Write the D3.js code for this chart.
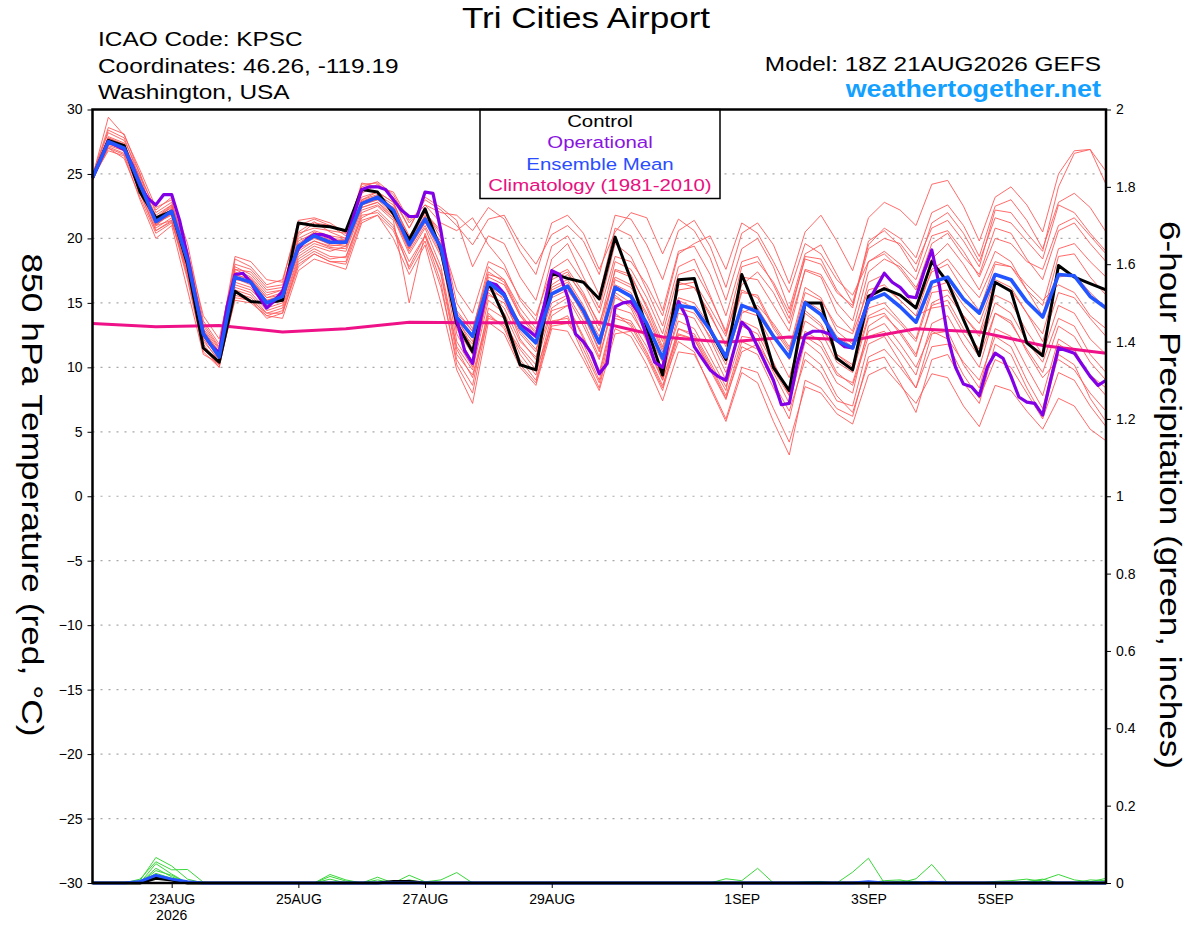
<!DOCTYPE html>
<html>
<head>
<meta charset="utf-8">
<script src="https://cdn.jsdelivr.net/npm/d3@7"></script>
<style>
  body { margin: 0; background: #fff; }
  svg { font-family: "Liberation Sans", Arial, Helvetica, sans-serif; }
</style>
</head>
<body>
<div id="meteograma"></div>
<script>
// ---- datos (18Z 21AUG2026 GEFS, KPSC) ----
// temperatura 850 hPa cada 6 h, 65 pasos (0..384 h)
const control = [24.7,27.6,27.2,23.6,21.6, 22.1,18.0,11.5,10.4, 15.9,15.1,15.0,15.2, 21.2,21.0,20.9,20.6,
  23.8,23.6,21.9,19.9, 22.3,19.1,13.4,11.2, 16.6,13.9,10.2,9.8, 17.3,16.9,16.6,15.3, 20.1,16.8,13.1,9.4,
  16.8,16.9,12.9,10.6, 17.2,14.2,10.0,8.2, 15.0,15.0,10.7,9.8, 15.5,16.1,15.6,14.6, 18.2,16.6,13.7,10.9,
  16.6,15.9,11.9,10.9, 17.9,17.0,16.5,16.0];

const ensembleMean = [24.7,27.5,27.0,24.2,21.3, 22.1,18.3,12.6,10.8, 17.0,16.6,15.0,15.5, 19.4,20.2,19.7,19.7,
  22.7,23.2,22.2,19.5, 21.5,19.3,13.9,12.4, 16.6,15.6,13.1,11.9, 15.7,16.3,14.4,11.9, 16.2,15.5,13.4,10.7,
  14.8,14.6,12.9,10.8, 14.8,14.3,12.4,10.8, 15.0,14.1,12.1,11.5, 15.2,15.7,14.7,13.5, 16.6,17.0,15.3,14.2,
  17.2,16.8,15.1,13.9, 17.2,17.1,15.5,14.6];

// operacional cada 3 h, 129 pasos
const operational = [24.7,26.1,27.5,27.2,26.9,25.7,24.1,23.1,22.6,23.4,23.4,21.4,18.6,15.5,12.6,11.7,11.1,
  14.7,17.2,17.3,16.6,15.5,14.6,15.2,15.9,17.8,19.2,19.9,20.3,20.3,20.1,19.7,19.7,21.8,23.8,24.0,24.0,
  23.8,23.0,22.2,21.7,21.7,23.6,23.5,20.6,17.0,13.7,11.3,10.3,13.7,16.6,16.4,15.7,14.2,13.3,12.9,12.4,
  14.7,17.5,17.2,15.5,12.6,12.0,11.1,9.5,10.3,14.7,15.0,15.1,14.2,12.4,10.4,10.0,12.6,15.1,13.9,11.6,
  10.7,9.8,9.3,9.0,11.3,13.5,12.9,11.6,10.3,9.0,7.1,7.2,10.3,12.5,12.8,12.8,12.6,12.1,11.6,11.5,13.4,
  15.1,16.2,17.3,16.6,16.2,15.5,15.4,17.4,19.1,16.2,12.4,10.0,8.7,8.5,7.8,10.0,11.1,10.7,9.3,7.7,7.3,
  7.2,6.3,9.0,11.5,11.3,11.1,10.2,9.3,8.6,9.0];

// climatologia 1981-2010, un valor diario (cada 4 pasos)
const climatology = [13.4,13.15,13.25,12.75,13.0,13.5,13.45,13.45,13.5,12.35,11.95,12.35,12.1,13.0,12.75,11.7,11.1];

// miembros del ensemble (rojo)
const members = [
  [25.0,28.2,27.6,25.0,22.0,22.8,19.0,13.2,11.5,17.6,17.4,16.0,16.2,20.5,21.3,20.5,20.0,23.5,24.2,23.2,20.8,23.0,22.2,21.0,19.5,21.5,21.8,19.6,18.0,20.3,21.0,19.8,17.2,21.8,21.5,19.5,16.8,20.6,21.4,19.4,16.2,20.4,21.2,19.5,16.5,20.5,21.8,19.8,17.5,21.6,22.8,22.2,21.0,24.2,24.5,22.5,19.8,23.2,24.0,22.6,20.5,25.0,26.8,26.9,25.2],
  [24.8,29.4,28.0,25.3,22.4,23.0,17.5,12.2,11.0,18.4,17.8,16.4,16.8,21.0,21.5,21.0,20.2,24.3,24.0,23.6,21.4,22.6,22.0,21.8,20.6,22.4,21.5,19.0,17.2,21.2,21.8,20.4,17.6,20.5,22.0,21.6,18.8,21.5,20.6,18.5,15.2,19.2,20.0,17.8,14.5,18.8,19.5,17.2,15.0,19.5,20.8,20.0,18.5,22.0,22.6,21.0,18.6,22.5,23.0,21.4,19.2,22.8,23.5,22.4,20.5],
  [24.6,27.8,27.3,24.6,21.6,22.4,18.6,12.8,11.2,17.4,16.9,15.4,15.6,19.6,20.5,20.0,19.9,23.0,23.6,22.8,20.0,22.0,20.6,15.0,13.0,17.2,16.8,14.2,12.6,16.8,17.4,15.4,12.8,17.5,17.0,14.8,12.0,16.4,16.6,14.6,12.4,17.0,16.8,14.8,12.8,17.6,17.2,15.0,13.6,18.2,18.8,17.6,16.0,19.6,20.4,18.6,17.2,20.8,20.4,18.4,16.8,20.6,21.2,19.6,18.2],
  [24.5,27.0,26.5,23.5,20.6,21.3,17.6,11.8,10.2,16.0,15.6,14.2,14.6,18.4,19.2,18.6,18.5,22.0,22.5,21.4,15.0,20.4,17.2,11.0,9.4,14.2,13.0,10.2,8.8,13.4,14.0,11.4,8.8,13.0,12.4,10.2,7.4,11.2,11.0,8.6,6.0,10.0,9.6,6.8,4.2,8.5,8.0,6.4,5.6,9.4,10.0,8.6,7.2,9.5,9.2,7.0,5.4,8.6,8.2,6.6,5.2,7.6,7.0,5.2,4.3],
  [24.7,26.8,26.4,23.0,20.0,21.0,16.0,11.0,10.3,15.2,15.0,14.0,13.8,17.5,18.4,18.0,17.6,21.2,21.8,20.0,17.2,19.5,15.0,9.8,7.2,13.5,12.6,10.0,8.6,13.0,12.8,10.6,8.2,12.6,12.8,10.8,8.2,12.5,12.2,9.8,7.5,11.6,11.0,8.4,6.0,11.2,10.2,7.8,6.5,10.4,10.8,8.8,6.5,10.6,11.0,8.8,7.2,11.8,11.0,8.4,6.2,11.0,10.2,7.6,5.8],
  [24.9,27.6,27.0,24.0,21.0,22.0,18.8,13.4,11.6,16.6,16.2,14.6,15.0,19.0,19.8,19.3,19.2,22.4,22.8,21.8,19.0,21.0,18.6,13.2,11.8,15.8,14.6,12.0,10.8,14.6,15.4,13.2,10.6,15.4,14.8,12.6,9.8,13.6,13.0,10.8,8.5,12.4,12.2,9.6,7.2,12.0,11.0,8.8,8.0,13.2,14.0,12.8,11.0,14.8,15.2,13.0,11.4,15.0,14.2,12.0,10.4,13.8,13.2,11.0,9.6],
  [24.6,27.2,26.8,24.4,21.8,22.6,19.0,14.0,12.2,18.0,17.6,16.2,16.4,20.2,21.2,21.0,20.6,24.0,24.4,23.4,21.2,22.6,21.2,20.6,21.6,19.5,18.0,15.2,13.6,18.4,19.6,17.0,14.6,19.6,18.6,16.0,13.2,17.8,18.4,15.6,12.6,16.4,17.4,15.8,13.4,17.5,17.0,14.2,12.8,17.4,18.4,17.8,16.2,18.4,19.6,18.0,16.0,19.0,18.2,16.0,14.0,18.6,18.8,17.0,15.6],
  [24.5,27.4,26.8,24.2,21.2,21.8,17.2,12.0,10.6,16.8,16.6,15.2,15.6,19.2,19.8,19.4,19.6,22.8,23.2,22.0,19.2,21.2,19.8,12.6,10.4,15.6,15.0,12.6,11.2,15.4,16.0,14.2,11.2,16.8,16.2,14.0,11.2,15.4,15.0,13.2,10.6,14.4,14.0,11.6,9.2,13.6,12.8,10.4,9.6,13.8,14.2,12.6,10.8,15.0,15.6,14.0,12.6,16.6,16.0,14.2,12.0,15.8,15.4,13.8,12.4],
  [24.8,27.9,27.4,24.4,21.4,22.3,18.0,12.4,10.8,17.2,16.8,15.2,15.4,19.4,20.0,19.6,19.8,22.6,23.0,22.4,19.8,21.8,19.0,12.0,10.0,16.0,15.4,12.2,10.6,16.2,16.8,14.8,12.0,17.6,17.2,14.6,11.6,16.0,16.2,14.2,11.6,15.8,15.6,13.2,11.4,16.2,15.4,12.8,11.8,16.6,17.2,16.2,14.6,17.4,18.0,16.0,14.4,18.0,17.8,16.0,14.8,19.2,19.6,18.2,17.0],
  [24.7,27.1,26.6,23.8,20.8,21.6,17.0,11.4,10.2,15.6,15.2,13.8,14.2,18.2,19.0,18.4,18.6,21.6,22.2,21.0,17.6,19.8,16.2,10.6,8.6,14.6,13.8,11.0,9.4,14.0,14.8,12.2,9.4,14.2,13.2,11.0,8.4,13.0,12.4,10.2,7.8,12.0,11.4,8.8,6.6,10.6,9.6,7.4,7.0,11.8,12.4,10.4,8.4,12.6,12.8,10.2,8.4,13.0,12.4,10.0,7.8,12.2,11.4,9.2,7.8],
  [24.9,27.7,27.2,24.8,22.2,23.2,19.6,13.6,11.8,18.6,18.2,16.8,16.6,21.4,21.6,21.2,20.4,24.2,24.3,23.0,20.8,23.2,22.4,21.4,17.8,20.2,19.6,17.0,15.2,19.4,20.2,18.2,15.6,20.8,20.2,17.6,14.4,19.0,19.4,17.2,14.0,18.2,18.6,16.4,13.8,18.6,18.4,16.0,14.6,19.8,20.6,19.4,17.4,21.2,22.0,20.4,18.2,21.6,21.2,19.8,18.4,22.6,22.0,20.4,19.0],
  [24.6,27.3,26.9,23.6,20.6,21.4,18.0,12.6,11.0,16.4,16.0,14.8,15.2,18.8,19.6,19.2,19.0,22.2,22.6,21.6,18.8,20.8,17.8,11.6,9.8,15.2,14.2,11.6,10.2,14.4,14.8,12.4,9.6,14.6,14.2,12.2,9.2,14.2,13.8,11.6,9.0,13.6,13.0,10.4,7.8,12.8,12.0,9.6,8.6,12.4,12.8,11.2,9.4,13.4,14.0,11.8,10.0,14.2,13.6,11.2,9.2,10.6,9.8,8.0,6.6],
  [24.8,28.4,27.8,24.6,21.0,22.2,18.4,12.2,10.4,16.2,15.8,14.4,14.8,18.6,19.4,19.0,19.4,22.4,22.8,21.6,19.2,21.4,19.6,14.4,12.8,17.8,16.8,14.6,13.0,16.4,17.2,15.6,13.4,17.0,16.4,14.2,11.4,15.2,14.6,12.2,9.6,13.2,12.6,10.2,8.0,14.2,13.2,11.0,10.2,14.6,15.0,13.6,12.2,16.2,16.6,14.8,13.4,16.8,16.2,14.2,12.6,17.0,17.2,15.8,14.6],
  [24.6,27.0,26.2,23.2,20.4,21.2,17.4,11.6,10.0,15.8,15.4,14.0,14.4,18.0,18.8,18.2,18.0,21.4,21.8,20.6,17.8,20.2,16.6,10.2,8.0,14.0,13.2,10.6,9.0,13.6,13.8,11.0,8.4,13.8,13.4,11.2,8.6,12.0,11.2,8.4,5.8,9.6,8.8,5.8,3.2,9.0,8.4,6.8,6.2,10.8,11.4,10.0,8.4,11.6,11.8,9.4,7.6,10.6,10.0,8.0,6.0,9.6,9.0,7.0,5.4],
  [24.7,27.6,27.1,24.1,21.5,22.5,18.2,12.8,11.0,17.6,17.0,15.6,16.0,20.0,20.6,20.2,20.0,23.0,23.4,22.6,20.2,22.0,20.4,14.0,11.4,17.0,16.4,14.0,12.4,16.0,16.6,14.6,12.4,15.8,15.0,12.8,10.4,14.6,14.2,12.4,10.2,14.8,14.6,12.6,10.6,15.2,14.4,12.4,11.6,15.6,16.2,15.2,14.0,17.6,18.4,16.8,15.4,18.2,17.8,16.4,15.2,16.4,15.8,14.0,13.0],
  [24.5,27.8,27.2,24.3,21.6,22.6,18.6,13.0,11.4,17.8,17.2,15.8,16.0,20.4,20.8,20.6,20.4,23.2,23.6,22.8,19.8,22.2,20.0,16.0,14.2,18.2,17.6,15.4,14.0,17.6,18.4,16.6,14.2,18.6,18.2,16.4,14.0,18.8,19.6,20.2,17.6,21.2,20.4,18.2,15.8,19.6,18.8,16.8,15.6,18.2,19.0,18.0,16.8,20.2,20.6,19.0,17.0,20.0,19.6,18.2,17.6,21.0,21.6,20.2,18.8],
  [24.8,27.5,26.9,23.9,21.1,21.9,17.8,12.4,10.8,16.9,16.4,15.0,15.3,19.3,20.1,19.5,19.4,22.6,23.0,21.9,19.3,21.3,18.8,13.6,12.0,16.4,15.2,12.8,11.4,15.0,15.6,13.6,10.8,15.6,14.6,12.0,9.0,13.0,12.6,10.4,8.2,14.2,14.8,13.4,11.6,14.4,13.4,11.0,10.0,14.0,14.6,13.4,12.0,15.8,16.0,14.0,12.4,15.6,15.0,12.8,11.0,14.8,14.2,12.2,11.0],
  [24.6,27.6,27.0,24.0,21.2,22.0,18.2,12.7,10.9,16.9,16.6,15.1,15.5,19.5,20.3,19.8,19.8,22.8,23.3,22.3,19.6,21.6,19.2,13.0,11.0,16.2,15.8,13.4,12.0,15.6,16.2,14.0,11.4,16.4,15.8,13.4,10.6,16.6,16.2,14.0,11.8,16.0,15.4,13.0,11.2,15.8,15.2,13.2,12.6,16.0,16.4,15.2,14.0,14.6,14.8,12.6,10.8,14.2,13.4,11.4,9.6,13.2,12.4,10.4,9.0],
  [24.7,27.4,27.0,24.3,21.4,22.2,18.4,12.9,11.2,17.2,16.8,15.4,15.8,19.8,20.4,19.9,19.8,22.9,23.3,22.4,19.7,21.7,19.4,14.2,12.8,17.4,16.6,14.0,12.8,17.0,17.6,15.8,13.2,18.2,17.6,15.4,12.6,17.2,17.6,15.4,12.8,17.8,18.2,16.6,14.2,18.4,18.0,15.8,14.8,19.2,20.0,19.6,18.0,20.8,21.4,19.8,17.8,22.2,22.0,20.4,19.0,24.0,26.6,26.9,24.2],
  [24.9,28.6,28.1,25.0,21.0,21.4,16.8,11.2,10.0,15.4,15.2,14.2,14.2,17.8,18.8,18.2,18.2,21.8,22.0,20.8,18.2,20.2,17.4,11.4,9.2,13.8,13.4,11.4,9.8,13.2,13.4,11.8,9.0,14.0,13.6,11.6,9.0,12.6,12.2,10.0,7.6,11.2,11.8,9.8,7.8,12.4,11.6,9.4,8.8,12.8,13.4,11.8,10.0,12.8,12.2,10.4,9.0,12.4,11.6,9.0,6.8,11.8,11.0,9.4,8.4]
];

// precipitacion 6 h (pulgadas): paso -> valor, el resto es 0
const precipMembers = [
  {3:0.006, 4:0.066, 5:0.044, 6:0.01},
  {3:0.01, 4:0.055, 5:0.034, 6:0.035, 7:0.002},
  {4:0.05, 5:0.023, 15:0.022, 16:0.008, 18:0.015, 20:0.02, 21:0.003, 22:0.008, 23:0.027},
  {4:0.038, 5:0.016, 15:0.017, 16:0.005, 20:0.008, 40:0.011, 41:0.006, 42:0.038, 60:0.008, 61:0.022, 62:0.008, 63:0.003, 64:0.012},
  {4:0.032, 5:0.02, 48:0.028, 49:0.064, 52:0.011, 53:0.048},
  {4:0.025, 5:0.012, 45:0.003, 46:0.004, 51:0.005, 52:0.004, 59:0.004, 60:0.01},
  {3:0.004, 4:0.018, 5:0.01, 18:0.008, 57:0.004, 58:0.006, 59:0.01, 60:0.004, 63:0.008, 64:0.006},
  {4:0.012, 5:0.006, 15:0.01, 50:0.006, 51:0.008}
];
const precipControl = {4:0.012, 5:0.008, 19:0.004, 20:0.004};
const precipMean = {3:0.004, 4:0.02, 5:0.01, 6:0.003, 49:0.003, 53:0.002};

// ejes
const tickDays = ["2026-08-23","2026-08-25","2026-08-27","2026-08-29","2026-09-01","2026-09-03","2026-09-05"];
const tickLabels = ["23AUG","25AUG","27AUG","29AUG","1SEP","3SEP","5SEP"];
const tempTicks = [-30,-25,-20,-15,-10,-5,0,5,10,15,20,25,30];
const precipTicks = [0,0.2,0.4,0.6,0.8,1,1.2,1.4,1.6,1.8,2];

// Texto ensanchado horizontalmente (la fuente del original es mas ancha)
function wideText(parent, x, y, sx, anchor, size, txt, rotate) {
  return parent.append("text")
    .attr("transform", "translate(" + x + "," + y + ")" + (rotate ? " rotate(90)" : "") + " scale(" + sx + ",1)")
    .attr("text-anchor", anchor)
    .style("font-size", size + "px")
    .text(txt);
}

function Meteograma() {
  const width = 1200, height = 927;
  const plot = { left: 92.5, right: 1106, top: 109.5, bottom: 883 };
  const start = Date.UTC(2026, 7, 21, 18);
  // tiempo de cada paso (horas por paso)
  const stepTime = (i, hours) => new Date(start + i * hours * 3600e3);

  const svg = d3.select("#meteograma").append("svg")
    .attr("width", width).attr("height", height);

  const x = d3.scaleUtc().domain([stepTime(0, 6), stepTime(64, 6)]).range([plot.left, plot.right]);
  const yTemp = d3.scaleLinear().domain([-30, 30]).range([plot.bottom, plot.top]);
  const yPrecip = d3.scaleLinear().domain([0, 2]).range([plot.bottom, plot.top]);

  // lineas de rejilla punteadas
  svg.append("g").selectAll("line")
    .data(tempTicks.filter(d => d > -30 && d < 30))
    .enter().append("line")
    .attr("x1", plot.left).attr("x2", plot.right)
    .attr("y1", d => yTemp(d)).attr("y2", d => yTemp(d))
    .style("stroke", "#a8a8a8").style("stroke-width", 1.2)
    .style("stroke-dasharray", "2,6");

  const tempLine = hours => d3.line().x((d, i) => x(stepTime(i, hours))).y(d => yTemp(d));
  const precipLine = d3.line().x((d, i) => x(stepTime(i, 6))).y(d => yPrecip(d));
  const fullSeries = m => d3.range(65).map(i => m[i] || 0);

  const data = svg.append("g");

  // miembros del ensemble
  data.selectAll(".member").data(members).enter().append("path")
    .attr("class", "member").attr("d", tempLine(6))
    .style("fill", "none").style("stroke", "#ff5a5a").style("stroke-width", 0.9);

  // precipitacion de los miembros
  data.selectAll(".pmember").data(precipMembers.map(fullSeries)).enter().append("path")
    .attr("class", "pmember").attr("d", precipLine)
    .style("fill", "none").style("stroke", "#3ad83a").style("stroke-width", 1);
  data.append("path").datum(fullSeries(precipControl)).attr("d", precipLine)
    .style("fill", "none").style("stroke", "#000").style("stroke-width", 3);
  data.append("path").datum(fullSeries(precipMean)).attr("d", precipLine)
    .style("fill", "none").style("stroke", "#2255ff").style("stroke-width", 3);

  // climatologia (un punto por dia)
  data.append("path").datum(climatology)
    .attr("d", tempLine(24))
    .style("fill", "none").style("stroke", "#ee1188").style("stroke-width", 3);

  data.append("path").datum(control).attr("d", tempLine(6))
    .style("fill", "none").style("stroke", "#000").style("stroke-width", 3)
    .style("stroke-linejoin", "round");
  data.append("path").datum(operational).attr("d", tempLine(3))
    .style("fill", "none").style("stroke", "#8200e6").style("stroke-width", 3.2)
    .style("stroke-linejoin", "round");
  data.append("path").datum(ensembleMean).attr("d", tempLine(6))
    .style("fill", "none").style("stroke", "#2255ff").style("stroke-width", 3.6)
    .style("stroke-linejoin", "round");

  // leyenda
  const legend = svg.append("g");
  legend.append("rect")
    .attr("x", 480).attr("y", plot.top).attr("width", 240).attr("height", 89)
    .style("fill", "#fff").style("stroke", "#000").style("stroke-width", 1.5);
  const legendItems = [
    ["Control", "#000"], ["Operational", "#8a14e0"],
    ["Ensemble Mean", "#2a4dff"], ["Climatology (1981-2010)", "#e8107f"]
  ];
  legendItems.forEach((d, i) => {
    wideText(legend, 600, 127 + i * 21.4, 1.2, "middle", 17, d[0]).style("fill", d[1]);
  });

  // ejes
  const axisStyle = g => {
    g.select(".domain").remove();
    g.selectAll(".tick line").style("stroke", "#000").style("stroke-width", 1);
    g.selectAll(".tick text").style("font-size", "14px").style("fill", "#000")
      .style("font-family", "'Liberation Sans', Arial, sans-serif");
  };
  svg.append("g").attr("transform", "translate(" + plot.left + ",0)")
    .call(d3.axisLeft(yTemp).tickValues(tempTicks).tickSize(5).tickPadding(5).tickFormat(d3.format("d")))
    .call(axisStyle);
  svg.append("g").attr("transform", "translate(" + plot.right + ",0)")
    .call(d3.axisRight(yPrecip).tickValues(precipTicks).tickSize(5).tickPadding(5).tickFormat(d => +d.toFixed(1)))
    .call(axisStyle);
  const xAxis = svg.append("g").attr("transform", "translate(0," + plot.bottom + ")")
    .call(d3.axisBottom(x).tickValues(tickDays.map(d => new Date(d + "T00:00:00Z")))
      .tickSize(5).tickPadding(6).tickFormat((d, i) => tickLabels[i]))
    .call(axisStyle);
  // año bajo la primera etiqueta
  xAxis.append("text").attr("x", x(new Date(tickDays[0] + "T00:00:00Z"))).attr("y", 37)
    .attr("text-anchor", "middle").style("font-size", "14px").style("fill", "#000").text("2026");

  // marco del grafico
  svg.append("rect")
    .attr("x", plot.left).attr("y", plot.top)
    .attr("width", plot.right - plot.left).attr("height", plot.bottom - plot.top)
    .style("fill", "none").style("stroke", "#000").style("stroke-width", 2.5);

  // titulos de los ejes
  wideText(svg, 22, 495, 1.22, "middle", 29, "850 hPa Temperature (red, °C)", true);
  wideText(svg, 1160, 495, 1.21, "middle", 29, "6-hour Precipitation (green, inches)", true);

  // cabecera
  wideText(svg, 586, 28, 1.17, "middle", 30, "Tri Cities Airport");
  const info = ["ICAO Code: KPSC", "Coordinates: 46.26, -119.19", "Washington, USA"];
  info.forEach((d, i) => wideText(svg, 98, 46 + i * 26.7, 1.22, "start", 20, d));
  wideText(svg, 1101, 71, 1.22, "end", 20, "Model: 18Z 21AUG2026 GEFS");
  wideText(svg, 1101, 97, 1.12, "end", 24, "weathertogether.net")
    .style("font-weight", "bold").style("fill", "#14a0ff");
}

Meteograma();
</script>
</body>
</html>
